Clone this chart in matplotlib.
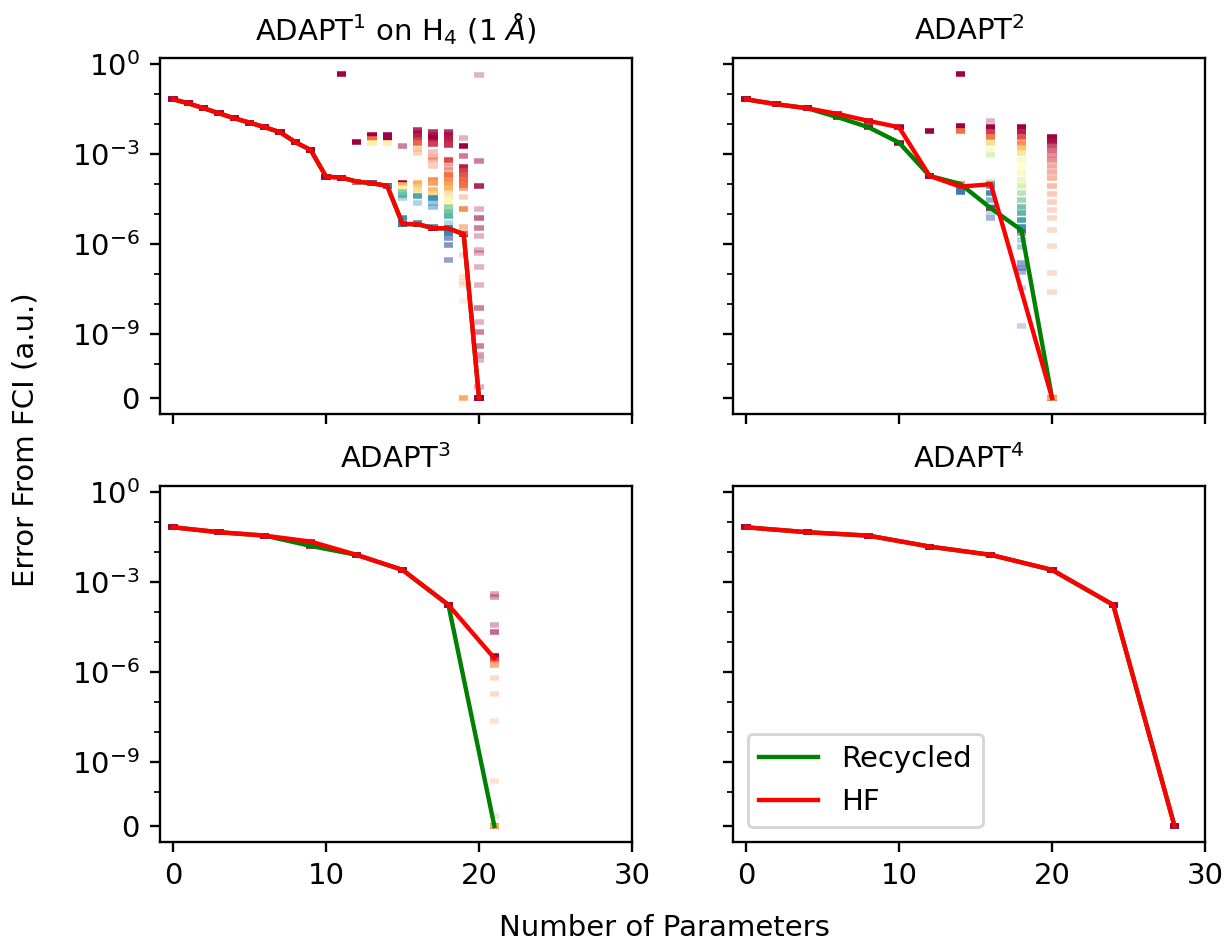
"""Error from FCI vs number of parameters for the four ADAPT variants on H4."""

import numpy as np
import matplotlib

matplotlib.use("Agg")
import matplotlib.pyplot as plt
from matplotlib.ticker import FixedLocator, NullFormatter

ZERO = -np.inf  # log10 of an exact zero error

# ---- main curves (error from FCI, a.u.) ----
X1 = list(range(0, 21))
HF1 = [0.068, 0.050, 0.0343, 0.0234, 0.0159, 0.0114, 0.0080, 0.00545, 0.00253,
       0.0014, 1.81e-4, 1.68e-4, 1.24e-4, 1.09e-4, 8.9e-5, 4.8e-6, 4.7e-6,
       3.5e-6, 3.4e-6, 2.2e-6, 0.0]
REC1 = HF1

X2_HF = [0, 2, 4, 6, 8, 10, 12, 14, 16, 20]
HF2 = [0.068, 0.0466, 0.0343, 0.0222, 0.0130, 0.0080, 1.91e-4, 8.4e-5, 1.01e-4, 0.0]
X2_REC = [0, 2, 4, 6, 8, 10, 12, 14, 16, 18, 20]
REC2 = [0.068, 0.0466, 0.0343, 0.0172, 0.0080, 0.00246, 1.91e-4, 1.04e-4, 1.6e-5, 3.0e-6, 0.0]

X3 = [0, 3, 6, 9, 12, 15, 18, 21]
HF3 = [0.068, 0.0466, 0.0359, 0.0227, 0.0082, 0.00259, 1.77e-4, 2.97e-6]
REC3 = [0.068, 0.0466, 0.0359, 0.0163, 0.0082, 0.00259, 1.77e-4, 0.0]

X4 = [0, 4, 8, 12, 16, 20, 24, 28]
HF4 = [0.068, 0.0466, 0.0359, 0.0155, 0.0082, 0.00259, 1.77e-4, 0.0]
REC4 = HF4

# ---- scattered trial energies: (n params, log10 error, colour position, alpha) ----
DASHES1 = [
    (11, -0.33, 0.0, 1.0),
    (12, -2.60, 0.0, 1.0), (12, -3.91, 0.65, 0.6),
    (13, -2.34, 0.0, 1.0), (13, -2.49, 0.2, 1.0), (13, -2.62, 0.45, 1.0), (13, -3.96, 0.85, 0.6),
    (14, -2.34, 0.0, 1.0), (14, -2.44, 0.0, 1.0), (14, -2.63, 0.45, 1.0), (14, -4.05, 0.9, 1.0),
    (15, -2.73, 0.0, 0.5), (15, -3.94, 0.0, 1.0), (15, -4.03, 0.3, 1.0), (15, -4.13, 0.45, 1.0),
    (15, -4.25, 0.75, 1.0), (15, -4.35, 0.8, 1.0), (15, -4.46, 0.88, 0.4), (15, -5.13, 0.88, 1.0),
    (15, -5.32, 0.9, 1.0),
    (16, -2.19, 0.0, 0.8), (16, -2.29, 0.02, 1.0), (16, -2.40, 0.05, 1.0), (16, -2.52, 0.1, 1.0),
    (16, -2.62, 0.18, 1.0), (16, -2.82, 0.3, 0.6), (16, -2.95, 0.3, 0.5), (16, -3.95, 0.3, 1.0),
    (16, -4.08, 0.35, 1.0), (16, -4.18, 0.4, 1.0), (16, -4.38, 0.85, 1.0), (16, -4.61, 0.88, 0.4),
    (16, -5.29, 0.88, 1.0),
    (17, -2.24, 0.0, 0.8), (17, -2.35, 0.03, 1.0), (17, -2.46, 0.0, 1.0), (17, -2.58, 0.05, 1.0),
    (17, -2.66, 0.1, 1.0), (17, -2.91, 0.15, 0.35), (17, -3.08, 0.2, 0.5), (17, -3.19, 0.2, 0.5),
    (17, -3.38, 0.2, 0.35), (17, -3.85, 0.25, 1.0), (17, -3.96, 0.28, 1.0), (17, -4.18, 0.32, 1.0),
    (17, -4.32, 0.38, 1.0), (17, -4.46, 0.88, 1.0), (17, -4.63, 0.88, 0.5), (17, -4.76, 0.9, 0.5),
    (17, -5.42, 0.9, 1.0),
    (18, -2.24, 0.0, 0.8), (18, -2.35, 0.02, 1.0), (18, -2.46, 0.04, 1.0), (18, -2.58, 0.06, 1.0),
    (18, -2.69, 0.08, 1.0), (18, -3.19, 0.12, 1.0), (18, -3.30, 0.15, 0.4), (18, -3.41, 0.15, 0.4),
    (18, -3.52, 0.18, 0.5), (18, -3.69, 0.2, 1.0), (18, -3.85, 0.25, 1.0), (18, -4.02, 0.28, 1.0),
    (18, -4.13, 0.32, 1.0), (18, -4.29, 0.35, 0.5), (18, -4.46, 0.4, 0.6), (18, -4.57, 0.48, 1.0),
    (18, -4.74, 0.72, 1.0), (18, -4.91, 0.78, 1.0), (18, -5.07, 0.82, 1.0), (18, -5.29, 0.86, 0.4),
    (18, -5.46, 0.88, 1.0), (18, -5.63, 0.9, 1.0), (18, -5.79, 0.95, 0.7), (18, -6.02, 0.96, 0.7),
    (18, -6.51, 0.97, 0.6),
    (19, -2.44, 0.0, 0.3), (19, -2.71, 0.0, 1.0), (19, -3.04, 0.05, 0.6), (19, -3.41, 0.05, 1.0),
    (19, -3.54, 0.1, 1.0), (19, -3.69, 0.15, 1.0), (19, -3.85, 0.18, 1.0), (19, -4.02, 0.2, 1.0),
    (19, -4.13, 0.2, 0.6), (19, -4.41, 0.25, 0.4), (19, -4.82, 0.25, 1.0), (19, -5.41, 0.25, 0.6),
    (19, -5.63, 0.25, 0.7), (19, -6.35, 0.25, 0.3), (19, -7.07, 0.28, 0.3), (19, -7.24, 0.28, 0.3),
    (19, -7.35, 0.28, 0.25), (19, -7.90, 0.28, 0.2), (19, ZERO, 0.3, 1.0),
    (20, -0.36, 0.0, 0.3), (20, -3.22, 0.0, 0.5), (20, -4.07, 0.0, 0.85), (20, -4.83, 0.0, 0.3),
    (20, -5.13, 0.0, 0.6), (20, -5.44, 0.0, 0.5), (20, -5.72, 0.0, 0.3), (20, -6.18, 0.0, 0.3),
    (20, -6.29, 0.0, 0.3), (20, -6.74, 0.0, 0.3), (20, -7.35, 0.0, 0.3), (20, -8.12, 0.0, 0.5),
    (20, -8.57, 0.0, 0.3), (20, -8.92, 0.0, 0.5), (20, -9.40, 0.0, 0.5), (20, -9.68, 0.0, 0.4),
    (20, -9.84, 0.0, 0.3), (20, -10.47, 0.0, 0.3), (20, ZERO, 0.0, 0.8),
]

DASHES2 = [
    (12, -2.21, 0.0, 1.0),
    (14, -0.33, 0.0, 1.0), (14, -2.05, 0.0, 1.0), (14, -2.21, 0.2, 1.0), (14, -3.91, 0.45, 0.6),
    (14, -4.12, 0.9, 1.0), (14, -4.24, 0.92, 1.0),
    (16, -1.88, 0.0, 0.3), (16, -2.08, 0.0, 1.0), (16, -2.24, 0.1, 1.0), (16, -2.41, 0.22, 1.0),
    (16, -2.63, 0.4, 1.0), (16, -2.85, 0.55, 0.6), (16, -3.02, 0.65, 0.6), (16, -3.91, 0.7, 0.6),
    (16, -4.07, 0.85, 1.0), (16, -4.29, 0.88, 1.0), (16, -4.52, 0.9, 0.6), (16, -4.74, 0.92, 0.5),
    (16, -4.96, 0.92, 0.3), (16, -5.13, 0.95, 0.5),
    (18, -2.08, 0.0, 1.0), (18, -2.24, 0.05, 1.0), (18, -2.41, 0.15, 1.0), (18, -2.63, 0.25, 1.0),
    (18, -2.79, 0.35, 1.0), (18, -2.96, 0.42, 1.0), (18, -3.19, 0.47, 0.7), (18, -3.41, 0.5, 0.7),
    (18, -3.63, 0.55, 0.7), (18, -3.85, 0.6, 0.7), (18, -4.07, 0.65, 0.7), (18, -4.29, 0.7, 0.8),
    (18, -4.52, 0.75, 0.8), (18, -4.74, 0.78, 1.0), (18, -4.96, 0.82, 1.0), (18, -5.18, 0.85, 1.0),
    (18, -5.41, 0.88, 1.0), (18, -5.63, 0.9, 0.7), (18, -5.85, 0.9, 0.4), (18, -6.07, 0.92, 0.4),
    (18, -6.61, 0.95, 0.6), (18, -6.78, 0.96, 0.7), (18, -6.91, 0.96, 0.5), (18, -7.46, 0.95, 0.3),
    (18, -8.73, 0.95, 0.3),
    (20, -2.41, 0.0, 1.0), (20, -2.55, 0.02, 1.0), (20, -2.69, 0.05, 0.8), (20, -2.85, 0.08, 0.7),
    (20, -3.02, 0.1, 0.6), (20, -3.19, 0.12, 0.6), (20, -3.39, 0.15, 0.5), (20, -3.59, 0.17, 0.5),
    (20, -3.78, 0.2, 0.5), (20, -4.05, 0.2, 0.45), (20, -4.32, 0.22, 0.4), (20, -4.58, 0.22, 0.35),
    (20, -4.85, 0.22, 0.3), (20, -5.12, 0.22, 0.3), (20, -5.52, 0.25, 0.3), (20, -6.05, 0.25, 0.3),
    (20, -6.95, 0.25, 0.3), (20, -7.57, 0.25, 0.3), (20, ZERO, 0.3, 1.0),
]

DASHES3 = [
    (21, -3.39, 0.0, 0.35), (21, -3.48, 0.0, 0.4), (21, -4.42, 0.0, 0.35), (21, -4.66, 0.0, 0.6),
    (21, -5.45, 0.0, 1.0), (21, -5.58, 0.15, 0.8), (21, -5.75, 0.25, 0.7), (21, -6.19, 0.25, 0.3),
    (21, -6.72, 0.25, 0.3), (21, -7.61, 0.25, 0.25), (21, -9.63, 0.25, 0.25), (21, -10.55, 0.25, 0.25),
    (21, ZERO, 0.3, 1.0),
]

DASHES4 = []

PANELS = [
    (r"ADAPT$^1$ on H$_4$ (1 $\AA$)", X1, HF1, X1, REC1, DASHES1),
    (r"ADAPT$^2$", X2_HF, HF2, X2_REC, REC2, DASHES2),
    (r"ADAPT$^3$", X3, HF3, X3, REC3, DASHES3),
    (r"ADAPT$^4$", X4, HF4, X4, REC4, DASHES4),
]

Y_MAJOR = [0, 1e-9, 1e-6, 1e-3, 1]
Y_MINOR = [1e-10, 1e-8, 1e-7, 1e-5, 1e-4, 1e-2, 1e-1]

W, H, DPI = 1227, 943, 210
plt.rcParams["font.size"] = 10
cmap = plt.get_cmap("Spectral")

fig = plt.figure(figsize=(W / DPI, H / DPI), dpi=DPI)
axs = fig.subplots(2, 2, sharex=True, sharey=True)
fig.subplots_adjust(left=0.1304, right=0.9821, top=0.9385, bottom=0.1071,
                    wspace=0.214, hspace=0.202)

for ax, (title, xh, hf, xr, rec, dashes) in zip(axs.flat, PANELS):
    ax.set_yscale("symlog", linthresh=1e-10)

    # a dark-red tick under every point of the converged curves
    px = list(xh) + list(xr)
    py = list(hf) + list(rec)
    pc = [cmap(0.0)] * len(px)
    for x, e, c, a in dashes:
        px.append(x)
        py.append(10.0 ** e)
        pc.append(cmap(c)[:3] + (a,))
    ax.scatter(px, py, marker="_", s=10, linewidths=1.9, c=pc, zorder=2)

    ax.plot(xr, rec, color="green", lw=1.5, label="Recycled", zorder=3)
    ax.plot(xh, hf, color="red", lw=1.5, label="HF", zorder=4)
    ax.set_title(title, fontsize=10)

for ax in axs.flat:
    ax.set_xlim(-0.85, 30)
    ax.set_xticks([0, 10, 20, 30])
    ax.set_yticks(Y_MAJOR)
    ax.yaxis.set_minor_locator(FixedLocator(Y_MINOR))
    ax.yaxis.set_minor_formatter(NullFormatter())

axs[1, 1].legend(loc="lower left")

fig.text(664 / W, 1 - 928 / H, "Number of Parameters", ha="center", va="center")
fig.text(26 / W, 1 - 440 / H, "Error From FCI (a.u.)", ha="center", va="center",
         rotation=90)

fig.savefig("out.png", dpi=DPI)
